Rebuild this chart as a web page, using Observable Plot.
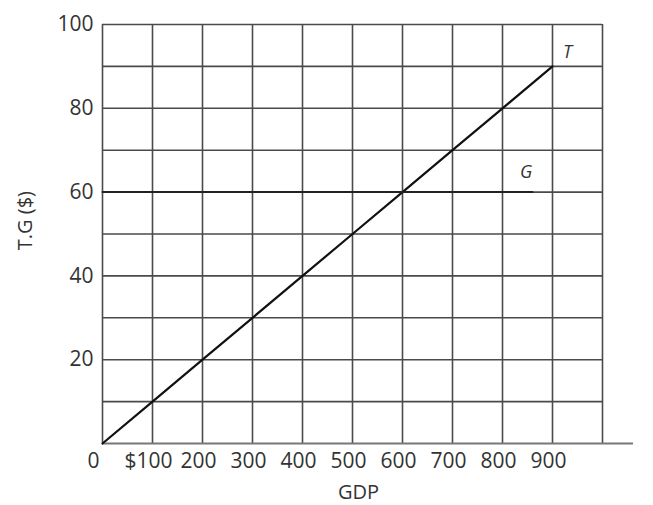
<!DOCTYPE html>
<html>
<head>
<meta charset="utf-8">
<script src="https://cdn.jsdelivr.net/npm/d3@7"></script>
<script src="https://cdn.jsdelivr.net/npm/@observablehq/plot@0.6"></script>
<style>
  html, body { margin: 0; padding: 0; background: #fff; }
  #chart svg { display: block; }
</style>
</head>
<body>
<div id="chart"></div>
<script>
// Data
const gdp = [0, 100, 200, 300, 400, 500, 600, 700, 800, 900];
const taxes = [0, 10, 20, 30, 40, 50, 60, 70, 80, 90];
const govX = [0, 860];
const govY = [60, 60];
const xGrid = [0, 100, 200, 300, 400, 500, 600, 700, 800, 900, 1000];
const yGrid = [10, 20, 30, 40, 50, 60, 70, 80, 90, 100];
const xTicks = [100, 200, 300, 400, 500, 600, 700, 800, 900];
const xTickLabels = ["$100", "200", "300", "400", "500", "600", "700", "800", "900"];
const originLabel = ["0"];
const yTicks = [20, 40, 60, 80, 100];
const yTickLabels = ["20", "40", "60", "80", "100"];
const lineLabels = [{x: 930, y: 93.5, text: "T"}, {x: 847, y: 64.8, text: "G"}];

const tData = gdp.map((x, i) => ({x, y: taxes[i]}));
const gData = govX.map((x, i) => ({x, y: govY[i]}));

const font = "'Open Sans', sans-serif";
const chart = Plot.plot({
  width: 653,
  height: 505,
  marginLeft: 102,
  marginRight: 21,
  marginTop: 24,
  marginBottom: 62,
  x: {domain: [0, 1060], axis: null},
  y: {domain: [0, 100], axis: null},
  style: {fontFamily: font, background: "#fff"},
  marks: [
    Plot.ruleX(xGrid, {x: d => d, y1: 0, y2: 100, stroke: "#4a4a4a", strokeWidth: 1.6}),
    Plot.ruleY(yGrid, {y: d => d, x1: 0, x2: 1000, stroke: "#4a4a4a", strokeWidth: 1.6}),
    Plot.ruleY([0], {x1: 0, x2: 1062, stroke: "#777", strokeWidth: 2}),
    Plot.line(tData, {x: "x", y: "y", stroke: "#111", strokeWidth: 2.2}),
    Plot.line(gData, {x: "x", y: "y", stroke: "#222", strokeWidth: 2}),
    Plot.text(lineLabels, {x: "x", y: "y", text: "text", fontSize: 18, fontStyle: "italic", fill: "#333"}),
    Plot.text(xTicks, {x: d => d, y: 0, text: (d, i) => xTickLabels[i], dy: 18, dx: -4, fontSize: 21, fill: "#333", letterSpacing: "0.6px"}),
    Plot.text(originLabel, {x: 0, y: 0, text: d => d, dy: 18, dx: -9, fontSize: 21, fill: "#333"}),
    Plot.text(yTicks, {x: 0, y: d => d, text: (d, i) => yTickLabels[i], dx: -9, textAnchor: "end", fontSize: 21, fill: "#333", letterSpacing: "0.6px"}),
    Plot.text(["GDP"], {x: 512, y: 0, text: d => d, dy: 49, fontSize: 20, fill: "#333"}),
    Plot.text(["T.G ($)"], {x: 0, y: 53.2, text: d => d, dx: -77, rotate: -90, fontSize: 20, fill: "#333"})
  ]
});
document.getElementById("chart").appendChild(chart);
</script>
</body>
</html>
